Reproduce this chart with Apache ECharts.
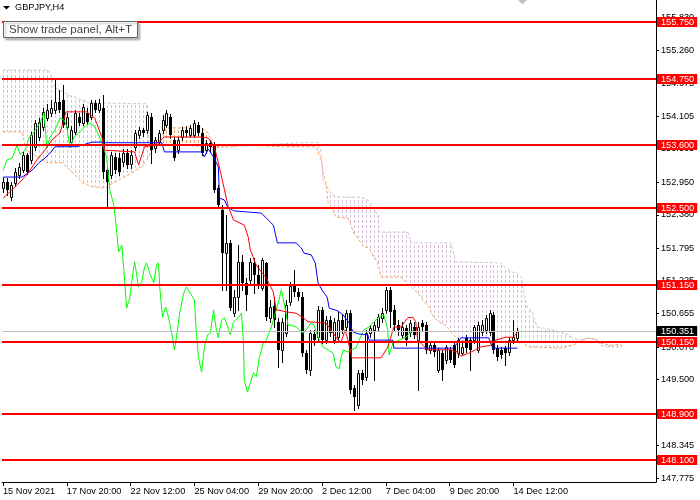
<!DOCTYPE html>
<html>
<head>
<meta charset="utf-8">
<script src="https://cdn.jsdelivr.net/npm/echarts@6.0.0/dist/echarts.min.js"></script>
<style>
  html, body { margin: 0; padding: 0; background: #fff; }
  #chart { width: 700px; height: 500px; }
</style>
</head>
<body>
<div id="chart"></div>
<script>
const FONT = 'Liberation Sans';

// time axis: one label every 16 H4 bars
const xTickBars = [0, 16, 32, 48, 64, 80, 96, 112, 128];
const xTickLabels = ['15 Nov 2021', '17 Nov 20:00', '22 Nov 12:00', '25 Nov 04:00', '29 Nov 20:00',
  '2 Dec 12:00', '7 Dec 04:00', '9 Dec 20:00', '14 Dec 12:00'];
const yTickValues = [155.830, 155.260, 154.675, 154.105, 153.535, 152.950, 152.380, 151.795,
  151.225, 150.655, 150.070, 149.500, 148.925, 148.345, 147.775];

const levels = [155.75, 154.75, 153.6, 152.5, 151.15, 150.15, 148.9, 148.1];
const lastPrice = 150.351;

// GBPJPY H4, one row per bar: [open, close, low, high]
const candles = [
  [152.85,152.95,152.78,153.02],[152.95,152.81,152.73,153.02],[152.69,152.90,152.64,152.95],[152.94,153.13,152.88,153.20],
  [153.08,153.22,153.02,153.29],[153.16,153.43,153.13,153.48],[153.43,153.13,153.09,153.46],[153.34,153.78,153.29,153.83],
  [153.57,153.99,153.51,154.04],[153.74,154.00,153.69,154.07],[153.92,154.18,153.86,154.25],[154.07,154.21,154.04,154.32],
  [154.16,154.25,154.11,154.39],[154.21,154.35,154.16,154.74],[154.35,154.21,154.18,154.56],[154.39,153.95,153.92,154.65],
  [153.92,154.09,153.88,154.16],[153.65,153.86,153.62,153.93],[153.83,154.16,153.79,154.21],[154.09,153.99,153.95,154.16],
  [153.99,154.27,153.95,154.32],[154.16,154.00,153.97,154.25],[154.09,154.34,154.06,154.39],[154.34,154.21,154.18,154.39],
  [154.21,154.34,154.18,154.40],[154.25,153.13,153.02,154.47],[153.16,152.95,152.52,153.23],[153.08,153.43,153.02,153.48],
  [153.39,153.16,153.11,153.46],[153.37,153.13,153.08,153.46],[153.30,153.46,153.23,153.53],[153.46,153.25,153.20,153.53],
  [153.27,153.43,153.20,153.51],[153.57,153.81,153.51,153.86],[153.78,153.86,153.72,153.92],[153.86,153.81,153.76,153.90],
  [153.86,154.12,153.81,154.18],[154.09,153.51,153.29,154.16],[153.55,153.69,153.48,153.74],[153.65,153.81,153.60,153.86],
  [153.86,154.04,153.81,154.12],[153.95,154.16,153.92,154.21],[154.09,153.78,153.72,154.14],[153.69,153.37,153.34,153.74],
  [153.51,153.69,153.46,153.74],[153.74,153.86,153.69,153.92],[153.86,153.81,153.76,153.93],[153.78,153.90,153.74,153.95],
  [153.78,153.99,153.74,154.04],[153.95,153.81,153.78,154.00],[153.81,153.46,153.43,153.90],[153.51,153.64,153.46,153.69],
  [153.64,153.57,153.48,153.69],[153.60,152.81,152.78,153.65],[152.85,152.55,152.50,152.90],[152.46,151.71,151.07,152.55],
  [151.71,151.89,151.07,152.38],[151.89,150.75,150.72,151.94],[150.66,150.94,150.61,151.07],[150.94,151.55,150.72,151.85],
  [151.55,151.19,151.07,151.68],[151.19,150.98,150.72,151.28],[151.24,151.55,151.17,151.62],[151.54,151.33,151.01,151.62],
  [151.33,151.15,151.10,151.50],[151.10,151.59,151.07,151.62],[151.54,150.59,150.54,151.55],[150.58,150.77,150.51,150.89],
  [150.79,150.54,150.42,150.94],[150.51,150.02,149.72,150.58],[150.02,150.51,149.81,150.58],[150.31,150.80,150.26,150.89],
  [150.86,151.14,150.80,151.21],[151.14,151.03,150.96,151.42],[151.03,150.94,150.89,151.10],[150.94,149.96,149.91,151.03],
  [149.96,149.67,149.62,150.02],[149.67,150.31,149.58,150.37],[150.30,150.19,150.10,150.37],[150.24,150.72,150.19,150.79],
  [150.72,150.19,150.14,150.77],[150.19,150.54,150.14,150.61],[150.54,150.31,150.26,150.61],[150.19,150.51,150.14,150.58],
  [150.24,150.54,150.19,150.68],[150.54,150.37,150.31,150.63],[150.42,150.66,150.37,150.72],[150.66,149.32,149.27,150.72],
  [149.35,149.20,148.97,149.41],[149.06,149.62,149.00,149.67],[149.62,149.49,149.42,149.67],[149.55,150.31,149.49,150.37],
  [150.31,150.40,150.24,150.45],[150.37,150.45,149.49,150.51],[150.42,150.59,150.37,150.65],[150.58,150.66,150.51,150.75],
  [150.72,151.07,150.66,151.12],[151.07,150.68,150.42,151.12],[150.72,150.45,150.37,150.80],[150.45,150.37,150.28,150.54],
  [150.28,150.42,150.23,150.51],[150.40,150.19,150.10,150.45],[150.33,150.49,150.26,150.54],[150.42,150.28,150.23,150.51],
  [150.19,150.42,149.32,150.51],[150.49,150.42,150.37,150.54],[150.45,150.02,149.96,150.51],[150.02,150.10,149.96,150.14],
  [150.10,149.98,149.91,150.14],[149.67,150.02,149.63,150.05],[149.96,149.67,149.49,150.02],[149.84,150.07,149.79,150.10],
  [150.02,149.84,149.81,150.07],[150.10,149.75,149.72,150.14],[149.96,150.19,149.89,150.23],[149.96,150.07,149.93,150.14],
  [150.23,150.05,149.98,150.28],[150.19,150.02,149.67,150.23],[150.19,150.42,150.14,150.45],[150.02,150.45,149.98,150.51],
  [150.33,150.45,150.28,150.54],[150.37,150.58,150.31,150.63],[150.33,150.66,150.28,150.72],[150.63,150.02,149.96,150.68],
  [150.05,149.89,149.84,150.10],[150.02,149.93,149.88,150.07],[150.05,149.96,149.75,150.09],[149.98,150.19,149.93,150.23],
  [150.19,150.24,150.14,150.54],[150.23,150.351,150.19,150.40]
];

// Ichimoku lines as [bar, price] vertices
const tenkan = [[0,152.67],[3.5,152.90],[6,153.08],[8.5,153.34],[10.5,153.51],[12.3,153.69],[14.3,153.81],[15.8,154.18],
  [21,154.18],[23,154.07],[24.8,153.74],[25.5,153.51],[33,153.48],[34,153.25],[35.5,153.57],[38,153.60],[40.5,153.74],
  [49.8,153.74],[51.5,153.72],[53,153.57],[54,153.29],[56.5,152.52],[57.8,152.29],[60.5,152.20],[61.5,151.99],[62,151.77],
  [63.5,151.50],[64.8,151.38],[66,151.28],[67.8,151.03],[68.5,150.72],[71.5,150.68],[73.5,150.66],[75.3,150.58],[76.5,150.51],
  [81,150.49],[82.8,150.31],[84,150.19],[84.8,150.16],[85.8,150.37],[86.5,150.19],[87.5,149.88],[94.8,149.88],[96.5,150.07],
  [98,150.42],[99.8,150.42],[101.5,150.58],[102.8,150.59],[103.5,150.51],[104,150.19],[106.5,150.02],[112.3,150.02],
  [114,149.98],[114.8,149.91],[116.8,149.96],[118.5,150.02],[119.8,150.07],[122.3,150.10],[123.5,150.19],[126,150.24],
  [128,150.24],[129,150.33]];
const kijun = [[0,153.04],[4.8,153.04],[7.3,153.16],[9,153.29],[10.5,153.37],[12.3,153.50],[13,153.57],[18.5,153.57],
  [22.3,153.65],[24.8,153.65],[25.5,153.64],[39.8,153.64],[40.5,153.48],[49.8,153.48],[50.5,153.39],[51.5,153.53],
  [52.8,153.39],[54,153.22],[54.3,152.67],[55.5,152.64],[56.3,152.52],[57.8,152.45],[64.8,152.41],[66.5,152.29],
  [67.8,152.20],[68.8,151.89],[73.5,151.89],[74.8,151.80],[75.5,151.71],[77.3,151.68],[78.3,151.54],[79,151.19],
  [80.3,151.03],[81.3,150.94],[81.8,150.75],[84,150.70],[85.3,150.63],[86.8,150.49],[87.8,150.33],[89,150.30],
  [91.5,150.28],[91.8,150.19],[97.8,150.19],[98,150.05],[112.8,150.05],[114,150.14],[114.8,150.23],[121.8,150.23],
  [122.8,150.05],[129,150.05]];
const chikou = [[0,153.16],[1,153.34],[2.3,153.37],[3.5,153.60],[4.3,153.43],[5.5,153.51],[6.5,153.72],[7.8,153.83],
  [9.3,153.99],[10.3,154.16],[11,153.55],[11.8,153.74],[13,153.86],[14.3,154.07],[15.3,154.04],[16,153.92],[16.8,153.55],
  [17.8,153.74],[19.3,153.83],[20.5,153.92],[21.8,153.99],[23,153.92],[24.3,153.72],[25.3,153.55],[26,153.37],[26.8,152.81],
  [27.8,152.55],[28.3,152.24],[29,151.73],[29.8,151.85],[30.3,151.42],[31,150.75],[31.8,150.93],[32.8,151.47],[33,151.56],
  [34,151.12],[34.8,151.21],[35.5,151.47],[36,151.54],[36.8,151.36],[37.8,151.19],[38.5,151.50],[39,151.54],[39.3,151.12],
  [40,150.59],[40.8,150.77],[41.5,150.59],[42.3,150.31],[43,150.02],[43.5,150.24],[44.3,150.66],[45.3,151.01],[46,151.12],
  [47,151.01],[48,150.89],[48.5,150.31],[49,149.89],[49.8,149.63],[50.5,150.07],[51.3,150.28],[52,150.31],[52.8,150.72],
  [53.5,150.37],[54,150.23],[54.8,150.54],[55.5,150.58],[56.5,150.40],[57,150.28],[57.8,150.51],[59,150.58],[59.8,150.66],
  [60.3,150.14],[60.5,149.49],[61.3,149.28],[61.8,149.27],[62.8,149.62],[63.5,149.55],[64.3,149.89],[65.3,150.14],
  [66,150.19],[67.3,150.42],[68,150.59],[69,150.84],[69.8,151.07],[70.5,150.84],[71.5,150.45],[72.3,150.45],[73.5,150.42],
  [74.3,150.37],[75.3,150.31],[76,150.37],[77.3,150.49],[78,150.45],[79,150.24],[80.3,150.07],[81.5,150.02],[82.8,149.96],
  [83.5,149.72],[84.3,149.69],[84.8,149.89],[85.3,150.02],[86.5,149.98],[87.3,150.02],[88.5,150.05],[89.3,150.19],
  [90.5,150.37],[91.8,150.42],[93,150.51],[94.3,150.59],[95.5,150.63],[96.5,150.37],[96.8,149.93],[97.8,150.14],
  [99.3,150.19],[101,150.24],[102.3,150.33],[103,150.37]];
const spanA = [[0,153.83],[4.8,153.83],[5.8,153.51],[11,153.29],[14.8,153.29],[17.3,153.13],[19.8,152.95],[22.3,152.87],
  [25.5,152.85],[28,152.95],[32.3,153.11],[34.8,153.22],[36.5,153.39],[37.3,153.57],[39.3,153.69],[41,153.90],[49.8,153.90],
  [51.5,153.81],[52.8,153.57],[59.8,153.60],[69.8,153.57],[78.5,153.57],[79.8,153.34],[80.3,153.11],[81,152.94],
  [81.5,152.60],[82.3,152.52],[83.5,152.34],[86.5,152.32],[88,152.06],[89.3,151.94],[90.5,151.82],[91.8,151.80],
  [93,151.64],[94,151.54],[94.8,151.29],[99.8,151.29],[102.3,151.12],[104,151.01],[105.3,150.89],[106.8,150.77],
  [108,150.59],[109.3,150.51],[111,150.45],[112.3,150.33],[114.3,150.19],[122.3,150.14],[129.3,150.19],[131.8,150.07],
  [139.8,150.05],[143,150.10],[145.3,150.19],[147.3,150.23],[149,150.19],[149.8,150.14],[152.3,150.10],[155,150.12]];
const spanB = [[0,154.91],[11,154.91],[11.8,154.86],[13,154.60],[15.3,154.53],[16.5,154.47],[19.8,154.39],[21.5,154.34],
  [36,154.32],[36.5,153.64],[49.8,153.57],[52.3,153.55],[74.8,153.64],[79.3,153.64],[79.8,153.46],[80.3,152.94],
  [81,152.90],[82.3,152.73],[84,152.69],[89.8,152.69],[91.5,152.64],[92.8,152.50],[94,152.38],[94.3,152.08],
  [101.5,152.08],[102.3,151.89],[112.3,151.89],[113.5,151.56],[124.8,151.54],[126,151.45],[127.8,151.38],[129,151.36],
  [130,151.28],[130.3,151.15],[130.8,150.94],[131.5,150.75],[132.8,150.68],[133,150.59],[134,150.42],[135.5,150.40],
  [136,150.37],[139,150.35],[140.3,150.31],[141.8,150.28],[142.8,150.23],[144.8,150.19],[146.8,150.23],[149,150.19],
  [149.8,150.10],[151.5,150.07],[155,150.07]];

const THISTLE = '#d8bfd8';
const SANDY = '#f4a460';

// pixel y of a drawn polyline at a given bar (where the hatch stroke meets it)
function lineY(api, pts, bar) {
  for (let k = 0; k < pts.length - 1; k++) {
    const p = pts[k], q = pts[k + 1];
    if (bar >= p[0] && bar <= q[0]) {
      const a = api.coord(p), b = api.coord(q);
      const t = q[0] === p[0] ? 0 : (bar - p[0]) / (q[0] - p[0]);
      return a[1] + (b[1] - a[1]) * t;
    }
  }
  return null;
}

// kumo: one dotted vertical stroke per bar between span A and span B
function renderCloud(params, api) {
  const last = Math.min(spanA[spanA.length - 1][0], spanB[spanB.length - 1][0]);
  const children = [];
  for (let bar = 0; bar <= last; bar++) {
    const yA = lineY(api, spanA, bar), yB = lineY(api, spanB, bar);
    if (yA == null || yB == null) continue;
    const top = Math.round(Math.min(yA, yB)), bot = Math.round(Math.max(yA, yB));
    if (bot - top < 1) continue;
    const x = Math.round(api.coord([bar, spanA[0][1]])[0]) + 0.5;
    children.push({
      type: 'line',
      shape: { x1: x, y1: top, x2: x, y2: bot },
      style: { stroke: yA < yB ? SANDY : THISTLE, lineWidth: 1, lineDash: [3, 2], lineDashOffset: top % 5 }
    });
  }
  return { type: 'group', children };
}

function renderCandle(params, api) {
  const i = api.value(0);
  const o = api.value(1), c = api.value(2), l = api.value(3), h = api.value(4);
  const cx = Math.round(api.coord([i, o])[0]);
  const yO = Math.round(api.coord([i, o])[1]);
  const yC = Math.round(api.coord([i, c])[1]);
  const yL = Math.round(api.coord([i, l])[1]);
  const yH = Math.round(api.coord([i, h])[1]);
  const top = Math.min(yO, yC), bot = Math.max(yO, yC);
  const children = [{
    type: 'line',
    shape: { x1: cx + 0.5, y1: yH, x2: cx + 0.5, y2: yL + 1 },
    style: { stroke: '#000', lineWidth: 1 }
  }];
  if (c >= o) {
    children.push({
      type: 'rect',
      shape: { x: cx - 0.5, y: top + 0.5, width: 2, height: Math.max(bot - top, 0) },
      style: { fill: '#fff', stroke: '#000', lineWidth: 1 }
    });
  } else {
    children.push({
      type: 'rect',
      shape: { x: cx - 1, y: top, width: 3, height: Math.max(bot - top, 1) },
      style: { fill: '#000' }
    });
  }
  return { type: 'group', children };
}

// horizontal price line across the plot plus its tag on the price scale
function priceLine(lineColor, lineWidth, tagColor) {
  return function (params, api) {
    const v = api.value(0);
    const cs = params.coordSys;
    const y = api.coord([0, v])[1];
    const yy = lineWidth % 2 ? Math.round(y) + 0.5 : Math.round(y);
    return {
      type: 'group',
      children: [
        { type: 'line', shape: { x1: cs.x, y1: yy, x2: cs.x + cs.width, y2: yy },
          style: { stroke: lineColor, lineWidth: lineWidth } },
        { type: 'text', x: cs.x + cs.width + 1, y: Math.round(y),
          style: { text: v.toFixed(3), fill: '#fff', backgroundColor: tagColor, padding: [1, 3, 0, 4],
            font: '9.2px "' + FONT + '"', align: 'left', verticalAlign: 'middle', lineHeight: 9 } }
      ]
    };
  };
}

const chart = echarts.init(document.getElementById('chart'));
chart.setOption({
  animation: false,
  backgroundColor: '#fff',
  title: [
    {
      text: 'GBPJPY,H4', left: 15, top: 2, padding: 0, z: 10,
      textStyle: { fontFamily: FONT, fontSize: 9.2, fontWeight: 'normal', color: '#000', lineHeight: 11 }
    },
    {
      text: 'Show trade panel, Alt+T', left: 3, top: 21, padding: [2, 6, 2, 6], z: 10,
      backgroundColor: '#fff', borderColor: '#646464', borderWidth: 1,
      shadowColor: 'rgba(0,0,0,0.25)', shadowBlur: 2, shadowOffsetX: 2, shadowOffsetY: 2,
      textStyle: { fontFamily: FONT, fontSize: 11.5, fontWeight: 'normal', color: '#444', lineHeight: 13 }
    }
  ],
  graphic: [
    { type: 'polygon', shape: { points: [[3, 6], [10, 6], [6.5, 9.5]] }, style: { fill: '#000' }, z: 10 },
    { type: 'polygon', shape: { points: [[518, 0], [527, 0], [522.5, 4.5]] }, style: { fill: '#c0c0c0' }, z: 10 }
  ],
  grid: { left: 0, right: 44, top: 0, bottom: 18 },
  xAxis: {
    type: 'value', min: -0.25, max: 163.75,
    splitLine: { show: false },
    axisLine: { show: true, onZero: false, lineStyle: { color: '#000', width: 1 } },
    axisTick: { show: true, length: 4, customValues: xTickBars, lineStyle: { color: '#000' } },
    axisLabel: {
      customValues: xTickBars, align: 'left', margin: 5, color: '#000',
      fontFamily: FONT, fontSize: 9.2,
      formatter: v => xTickLabels[xTickBars.indexOf(v)]
    }
  },
  yAxis: {
    type: 'value', position: 'right', min: 147.71, max: 156.135,
    splitLine: { show: false },
    axisLine: { show: true, onZero: false, lineStyle: { color: '#000', width: 1 } },
    axisTick: { show: true, length: 3, customValues: yTickValues, lineStyle: { color: '#000' } },
    axisLabel: {
      customValues: yTickValues, margin: 5, color: '#000',
      fontFamily: FONT, fontSize: 9.2,
      formatter: v => v.toFixed(3)
    }
  },
  series: [
    {
      name: 'Kumo', type: 'custom', z: 1, clip: true,
      renderItem: renderCloud, data: [[0, spanA[0][1]]]
    },
    {
      name: 'Senkou Span A', type: 'line', z: 2, data: spanA, showSymbol: false,
      lineStyle: { color: SANDY, width: 1, type: [3, 2] }
    },
    {
      name: 'Senkou Span B', type: 'line', z: 2, data: spanB, showSymbol: false,
      lineStyle: { color: THISTLE, width: 1, type: [3, 2] }
    },
    {
      name: 'GBPJPY', type: 'custom', z: 3, clip: true,
      renderItem: renderCandle,
      encode: { x: 0, y: [1, 2, 3, 4] },
      data: candles.map((c, i) => [i, c[0], c[1], c[2], c[3]])
    },
    {
      name: 'Chikou Span', type: 'line', z: 4, data: chikou, showSymbol: false,
      lineStyle: { color: '#00ff00', width: 1 }
    },
    {
      name: 'Kijun-sen', type: 'line', z: 4, data: kijun, showSymbol: false,
      lineStyle: { color: '#0000ff', width: 1 }
    },
    {
      name: 'Tenkan-sen', type: 'line', z: 4, data: tenkan, showSymbol: false,
      lineStyle: { color: '#ff0000', width: 1 }
    },
    {
      name: 'Bid', type: 'custom', z: 5, clip: false,
      renderItem: priceLine('#c0c0c0', 1, '#000'),
      encode: { y: 0 },
      data: [[lastPrice]]
    },
    {
      name: 'Levels', type: 'custom', z: 6, clip: false,
      renderItem: priceLine('#ff0000', 2, '#ff0000'),
      encode: { y: 0 },
      data: levels.map(v => [v])
    }
  ]
});
</script>
</body>
</html>
